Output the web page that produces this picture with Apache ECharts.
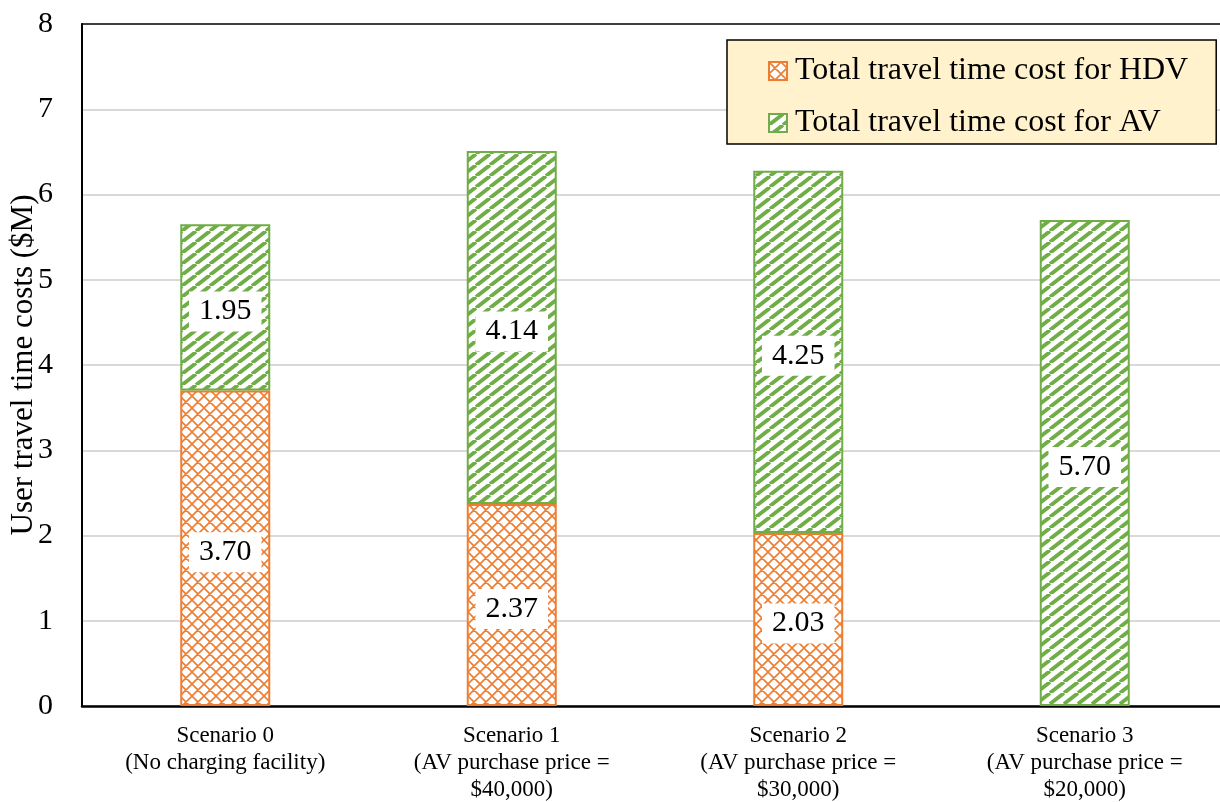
<!DOCTYPE html>
<html>
<head>
<meta charset="utf-8">
<script src="https://cdn.jsdelivr.net/npm/echarts@6/dist/echarts.min.js"></script>
<style>
  html, body { margin: 0; padding: 0; background: #fff; }
  #chart { width: 1220px; height: 802px; }
</style>
</head>
<body>
<div id="chart"></div>
<script>
// Scenario labels (category axis)
const categories = [
  'Scenario 0\n(No charging facility)',
  'Scenario 1\n(AV purchase price =\n$40,000)',
  'Scenario 2\n(AV purchase price =\n$30,000)',
  'Scenario 3\n(AV purchase price =\n$20,000)'
];
// Travel time costs in $M
const hdvCost = [3.70, 2.37, 2.03, 0];
const avCost = [1.95, 4.14, 4.25, 5.70];
const seriesNames = ['Total travel time cost for HDV', 'Total travel time cost for AV'];
const yTicks = { min: 0, max: 8, interval: 1 };

const ORANGE = '#ED7D31';
const GREEN = '#70AD47';
const FONT = "'Liberation Serif', 'Times New Roman', serif";

// Diamond lattice fill for the HDV bars
function crossPattern(color) {
  const s = 12;
  const c = document.createElement('canvas');
  c.width = s; c.height = s;
  const g = c.getContext('2d');
  g.fillStyle = '#fff';
  g.fillRect(0, 0, s, s);
  g.strokeStyle = color;
  g.lineWidth = 1.6;
  g.beginPath();
  for (const k of [-s, 0, s]) {
    g.moveTo(k, 0); g.lineTo(k + s, s);
    g.moveTo(k, s); g.lineTo(k + s, 0);
  }
  g.stroke();
  return { image: c, repeat: 'repeat' };
}

// Wide diagonal stripes for the AV bars
function stripePattern(color) {
  const w = 14, h = 11;
  const c = document.createElement('canvas');
  c.width = w; c.height = h;
  const g = c.getContext('2d');
  g.fillStyle = '#fff';
  g.fillRect(0, 0, w, h);
  g.strokeStyle = color;
  g.lineWidth = 3.8;
  g.beginPath();
  for (const k of [-1, 0, 1]) {
    g.moveTo(k * w, h); g.lineTo(k * w + w, 0);
  }
  g.stroke();
  return { image: c, repeat: 'repeat' };
}

const labelStyle = {
  show: true,
  position: 'inside',
  offset: [0, 4],
  fontFamily: FONT,
  fontSize: 30,
  color: '#000',
  backgroundColor: '#fff',
  padding: [6, 10, 4, 10],
  formatter: p => p.value.toFixed(2)
};

// Zero-height segments get neither a label nor an outline
function toData(values) {
  return values.map(v => v === 0
    ? { value: v, label: { show: false }, itemStyle: { borderWidth: 0 } }
    : { value: v });
}

const chart = echarts.init(document.getElementById('chart'), null, { renderer: 'canvas' });
chart.setOption({
  backgroundColor: '#fff',
  animation: false,
  grid: {
    left: 82, right: -8, top: 24, bottom: 96,
    containLabel: false,
    outerBoundsMode: 'none',
    show: true, borderColor: '#000', borderWidth: 1.5, backgroundColor: 'transparent'
  },
  legend: {
    orient: 'vertical',
    left: 727, top: 40,
    backgroundColor: '#FFF2CC',
    borderColor: '#000',
    borderWidth: 1.5,
    padding: [15, 28, 5, 41],
    itemGap: 20,
    itemWidth: 18, itemHeight: 18,
    icon: 'rect',
    textStyle: { fontFamily: FONT, fontSize: 32, color: '#000', padding: [0, 0, 0, 3] },
    data: seriesNames
  },
  xAxis: {
    type: 'category',
    data: categories,
    axisLine: { lineStyle: { color: '#000', width: 2.5 } },
    axisTick: { show: false },
    axisLabel: {
      fontFamily: FONT, fontSize: 23, color: '#000',
      lineHeight: 27, margin: 16, interval: 0
    }
  },
  yAxis: {
    type: 'value',
    min: yTicks.min, max: yTicks.max, interval: yTicks.interval,
    name: 'User travel time costs ($M)',
    nameLocation: 'middle',
    nameGap: 43,
    nameMoveOverlap: false,
    nameTextStyle: { fontFamily: FONT, fontSize: 31, color: '#000' },
    axisLine: { show: true, lineStyle: { color: '#000', width: 2 } },
    axisTick: { show: false },
    axisLabel: { fontFamily: FONT, fontSize: 30, color: '#000', margin: 29 },
    splitLine: { showMaxLine: false, lineStyle: { color: '#D9D9D9', width: 2 } }
  },
  series: [
    {
      name: seriesNames[0],
      type: 'bar',
      stack: 'cost',
      barWidth: 90,
      data: toData(hdvCost),
      itemStyle: { color: crossPattern(ORANGE), borderColor: ORANGE, borderWidth: 2 },
      label: labelStyle
    },
    {
      name: seriesNames[1],
      type: 'bar',
      stack: 'cost',
      barWidth: 90,
      data: toData(avCost),
      itemStyle: { color: stripePattern(GREEN), borderColor: GREEN, borderWidth: 2 },
      label: labelStyle
    }
  ]
});
</script>
</body>
</html>
